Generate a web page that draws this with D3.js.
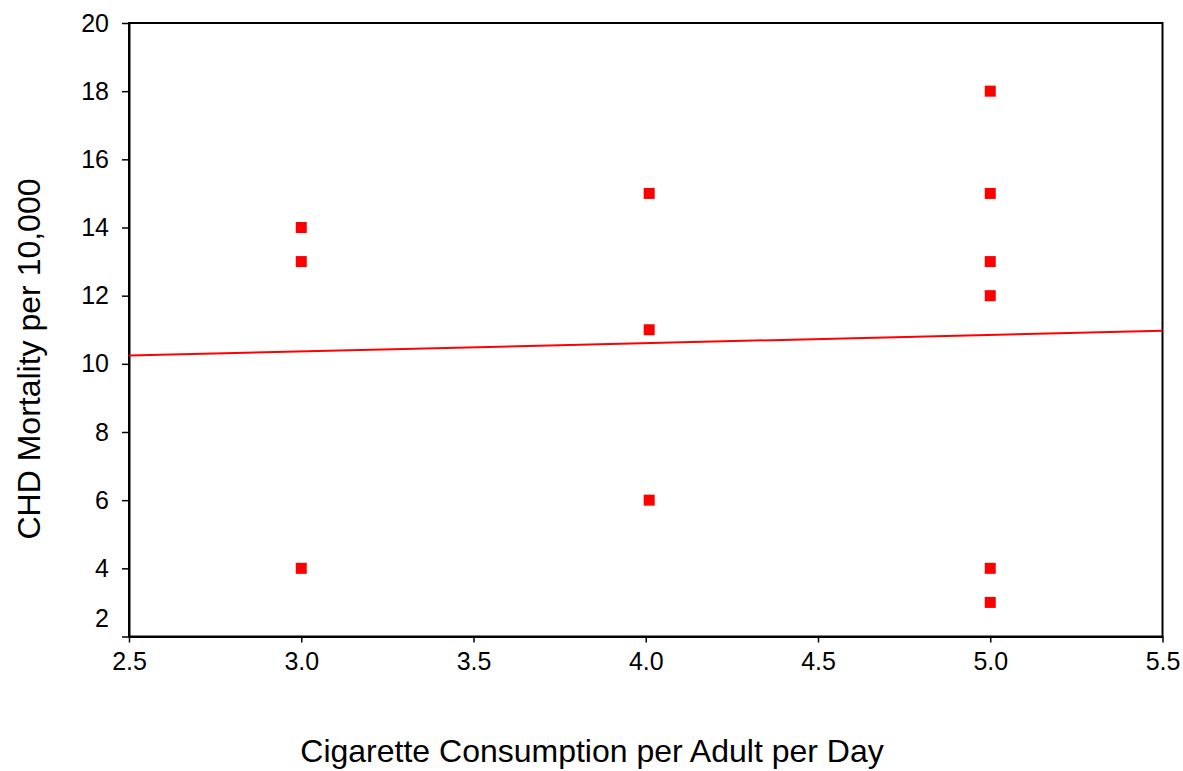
<!DOCTYPE html>
<html>
<head>
<meta charset="utf-8">
<script src="https://cdn.jsdelivr.net/npm/d3@7"></script>
<style>
  html, body { margin: 0; padding: 0; background: #fff; }
  svg { display: block; font-family: "Liberation Sans", Arial, sans-serif; }
</style>
</head>
<body>
<svg id="chart" width="1183" height="771"></svg>
<script>
// Data
const cigarettes = [3.0, 3.0, 3.0, 4.01, 4.01, 4.01, 5.0, 5.0, 5.0, 5.0, 5.0, 5.0];
const mortality  = [14, 13, 4, 15, 11, 6, 18, 15, 13, 12, 4, 3];
const xTicks = [2.5, 3.0, 3.5, 4.0, 4.5, 5.0, 5.5];
const yTicks = [2, 4, 6, 8, 10, 12, 14, 16, 18, 20];
const xTitle = "Cigarette Consumption per Adult per Day";
const yTitle = "CHD Mortality per 10,000";

const W = 1183, H = 771;
const margin = { top: 23, right: 20.5, bottom: 134.5, left: 129 };
const svg = d3.select("#chart");
const iw = W - margin.left - margin.right;
const ih = H - margin.top - margin.bottom;
const g = svg.append("g").attr("transform", `translate(${margin.left},${margin.top})`);

const x = d3.scaleLinear().domain([2.5, 5.5]).range([0, iw]);
const y = d3.scaleLinear().domain([2, 20]).range([ih, 0]);

// Frame (top and right)
g.append("rect").attr("x", 0).attr("y", 0).attr("width", iw).attr("height", ih)
  .attr("fill", "none").attr("stroke", "#000").attr("stroke-width", 2);

// Axes
const xAxis = g.append("g").attr("transform", `translate(0,${ih})`)
  .call(d3.axisBottom(x).tickValues(xTicks).tickFormat(d3.format(".1f")).tickSizeOuter(0).tickSizeInner(6).tickPadding(10));
const yAxis = g.append("g")
  .call(d3.axisLeft(y).tickValues(yTicks).tickFormat(d3.format("d")).tickSizeOuter(0).tickSizeInner(7).tickPadding(13));

[xAxis, yAxis].forEach(a => {
  a.select(".domain").attr("stroke", "#000").attr("stroke-width", 2);
  a.selectAll(".tick line").attr("stroke", "#000").attr("stroke-width", 1.5);
  a.selectAll(".tick text").attr("fill", "#000").style("font-size", "25px")
    .style("font-family", "'Liberation Sans', Arial, sans-serif");
});
// Lowest y label lifted so it clears the x labels
yAxis.selectAll(".tick text").filter(d => d === 2).attr("dy", "-0.42em");

// Regression line (least squares from the data)
const n = cigarettes.length;
const mx = d3.mean(cigarettes), my = d3.mean(mortality);
let sxy = 0, sxx = 0;
for (let i = 0; i < n; i++) { sxy += (cigarettes[i]-mx)*(mortality[i]-my); sxx += (cigarettes[i]-mx)**2; }
const slope = sxy / sxx, intercept = my - slope * mx;
const dom = x.domain();
g.append("path")
  .datum(dom.map(v => [v, intercept + slope * v]))
  .attr("d", d3.line().x(d => x(d[0])).y(d => y(d[1])))
  .attr("fill", "none").attr("stroke", "#ff0000").attr("stroke-width", 2);

// Points
const s = 11;
g.selectAll("rect.pt").data(cigarettes.map((c, i) => [c, mortality[i]])).join("rect")
  .attr("class", "pt")
  .attr("x", d => x(d[0]) - s/2).attr("y", d => y(d[1]) - s/2)
  .attr("width", s).attr("height", s).attr("fill", "#ff0000");

// Titles
svg.append("text").attr("x", 592).attr("y", 762)
  .attr("text-anchor", "middle").style("font-size", "32px").attr("fill", "#000")
  .text(xTitle);
svg.append("text").attr("transform", `translate(40,359) rotate(-90)`)
  .attr("text-anchor", "middle").style("font-size", "32px").attr("fill", "#000")
  .text(yTitle);
</script>
</body>
</html>
